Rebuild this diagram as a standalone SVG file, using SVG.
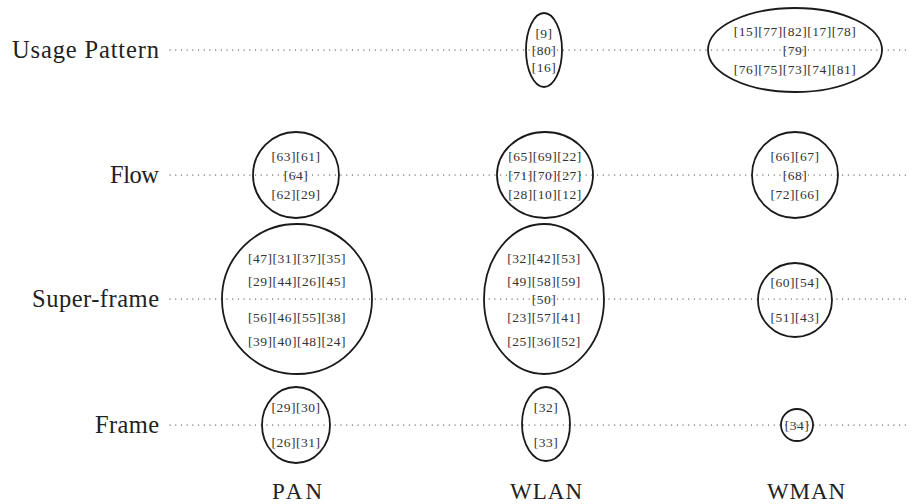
<svg xmlns="http://www.w3.org/2000/svg" width="912" height="504" viewBox="0 0 912 504">
<style>
.row{font-family:"Liberation Serif","DejaVu Serif",serif;font-size:24.5px;fill:#222;text-anchor:end}
.col{font-family:"Liberation Serif","DejaVu Serif",serif;font-size:23px;fill:#222;text-anchor:middle}
.t{font-family:"Liberation Serif","DejaVu Serif",serif;font-size:13.5px;letter-spacing:0.5px;fill:#333;text-anchor:middle;dominant-baseline:central}
.dot{stroke:#333;stroke-width:1.2;stroke-dasharray:0.1 5.6;stroke-linecap:round;fill:none}
.n{fill:none;stroke:#1a1a1a;stroke-width:1.8}
</style>
<rect width="912" height="504" fill="#fff"/>
<g id="connectors">
<line class="dot" x1="170" y1="50" x2="906" y2="50"/>
<line class="dot" x1="170" y1="175" x2="906" y2="175"/>
<line class="dot" x1="170" y1="299" x2="906" y2="299"/>
<line class="dot" x1="170" y1="425" x2="906" y2="425"/>
</g>
<g id="labels">
<text class="row" x="159" y="58" textLength="147" lengthAdjust="spacing">Usage Pattern</text>
<text class="row" x="159" y="183" textLength="49" lengthAdjust="spacing">Flow</text>
<text class="row" x="159" y="307" textLength="127" lengthAdjust="spacing">Super-frame</text>
<text class="row" x="159" y="433" textLength="64" lengthAdjust="spacing">Frame</text>
<text class="col" x="297" y="499" textLength="50" lengthAdjust="spacing">PAN</text>
<text class="col" x="546" y="499" textLength="72" lengthAdjust="spacing">WLAN</text>
<text class="col" x="806" y="499" textLength="78" lengthAdjust="spacing">WMAN</text>
</g>
<g id="wlan-usage">
<ellipse class="n" cx="544" cy="50" rx="18" ry="37"/>
<text class="t" x="544" y="33">[9]</text>
<text class="t" x="544" y="50">[80]</text>
<text class="t" x="544" y="67">[16]</text>
</g>
<g id="wman-usage">
<ellipse class="n" cx="795" cy="50" rx="87" ry="42"/>
<text class="t" x="795" y="31">[15][77][82][17][78]</text>
<text class="t" x="795" y="50">[79]</text>
<text class="t" x="795" y="69">[76][75][73][74][81]</text>
</g>
<g id="pan-flow">
<circle class="n" cx="296" cy="175" r="43"/>
<text class="t" x="296" y="156">[63][61]</text>
<text class="t" x="296" y="175">[64]</text>
<text class="t" x="296" y="194">[62][29]</text>
</g>
<g id="wlan-flow">
<ellipse class="n" cx="545" cy="175" rx="48" ry="43"/>
<text class="t" x="545" y="156">[65][69][22]</text>
<text class="t" x="545" y="175">[71][70][27]</text>
<text class="t" x="545" y="194">[28][10][12]</text>
</g>
<g id="wman-flow">
<circle class="n" cx="795" cy="175" r="43"/>
<text class="t" x="795" y="156">[66][67]</text>
<text class="t" x="795" y="175">[68]</text>
<text class="t" x="795" y="194">[72][66]</text>
</g>
<g id="pan-superframe">
<ellipse class="n" cx="297" cy="299" rx="75" ry="75"/>
<text class="t" x="297" y="258">[47][31][37][35]</text>
<text class="t" x="297" y="281">[29][44][26][45]</text>
<text class="t" x="297" y="317">[56][46][55][38]</text>
<text class="t" x="297" y="341">[39][40][48][24]</text>
</g>
<g id="wlan-superframe">
<ellipse class="n" cx="544" cy="299" rx="60" ry="75"/>
<text class="t" x="544" y="258">[32][42][53]</text>
<text class="t" x="544" y="281">[49][58][59]</text>
<text class="t" x="544" y="299">[50]</text>
<text class="t" x="544" y="317">[23][57][41]</text>
<text class="t" x="544" y="341">[25][36][52]</text>
</g>
<g id="wman-superframe">
<circle class="n" cx="795" cy="300" r="37"/>
<text class="t" x="795" y="282">[60][54]</text>
<text class="t" x="795" y="317">[51][43]</text>
</g>
<g id="pan-frame">
<ellipse class="n" cx="296" cy="425" rx="34" ry="38"/>
<text class="t" x="296" y="407">[29][30]</text>
<text class="t" x="296" y="442">[26][31]</text>
</g>
<g id="wlan-frame">
<ellipse class="n" cx="546" cy="424" rx="24" ry="37"/>
<text class="t" x="546" y="407">[32]</text>
<text class="t" x="546" y="442">[33]</text>
</g>
<g id="wman-frame">
<circle class="n" cx="797" cy="425" r="16"/>
<text class="t" x="797" y="425">[34]</text>
</g>
</svg>
